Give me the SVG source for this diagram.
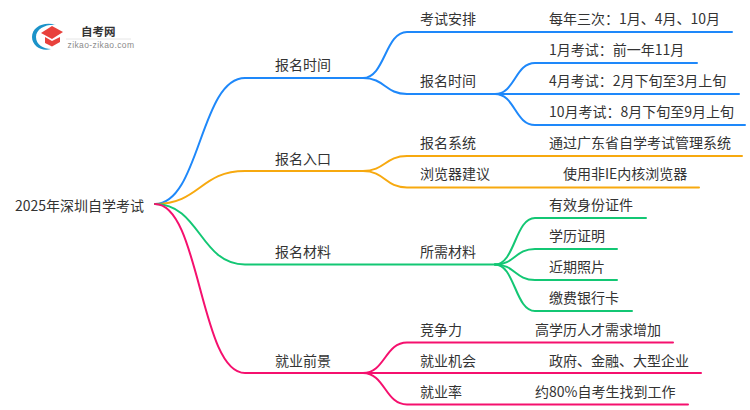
<svg xmlns="http://www.w3.org/2000/svg" width="750" height="410" viewBox="0 0 750 410">
<style>
text{font-family:"Noto Sans CJK SC","Liberation Sans",sans-serif;font-size:14px;fill:#333}
.c{fill:none;stroke-width:2;stroke-linecap:round}
.b{stroke:#1e88fa}.o{stroke:#f7a90f}.g{stroke:#13c774}.p{stroke:#f5106e}
</style>
<rect width="750" height="410" fill="#fff"/>
<g id="connectors">
<path class="c b" d="M155 204C200 204 200 78 245 78H363"/>
<path class="c o" d="M155 204C200 204 200 171 245 171H363"/>
<path class="c g" d="M155 204C200 204 200 264.500 245 264.500H495"/>
<path class="c p" d="M155 204C200 204 200 373 245 373H363"/>
<path class="c b" d="M363 78C385 78 385 32 407 32H732"/>
<path class="c b" d="M363 78C385 78 385 94 407 94H495"/>
<path class="c b" d="M495 94C515 94 515 63 535 63H697"/>
<path class="c b" d="M495 94H739"/>
<path class="c b" d="M495 94C515 94 515 125 535 125H745"/>
<path class="c o" d="M363 171C385 171 385 156 407 156H742"/>
<path class="c o" d="M363 171C385 171 385 187.500 407 187.500H699"/>
<path class="c g" d="M495 264.500C515 264.500 515 218 535 218H646"/>
<path class="c g" d="M495 264.500C515 264.500 515 249 535 249H617"/>
<path class="c g" d="M495 264.500C515 264.500 515 280 535 280H617"/>
<path class="c g" d="M495 264.500C515 264.500 515 311 535 311H632"/>
<path class="c p" d="M363 373C385 373 385 342.500 407 342.500H673"/>
<path class="c p" d="M363 373H701"/>
<path class="c p" d="M363 373C385 373 385 404.500 407 404.500H688"/>
</g>
<g id="logo">
<path d="M56 25C44 21 32 27 32 37C32 46 42 52 51 49C44 49 36 45 36 37C36 29 46 24 56 25Z" fill="#1b93c9"/>
<path d="M41 33L52 26L63 32L52 39Z" fill="#e8413c"/>
<path d="M45 37L52 41L60 37V42L52 46.500L45 43Z" fill="#e8413c"/>
<text x="81" y="36" style="font-size:11.500px;font-weight:700;fill:#333">自考网</text>
<path d="M66 39H131" stroke="#e6e6e6" stroke-width="1"/>
<text x="67.500" y="48" style="font-family:'Liberation Sans',sans-serif;font-size:8.500px;letter-spacing:.4px;fill:#8a8a8a">zikao-zikao.com</text>
</g>
<g id="root"><text x="15" y="211">2025年深圳自学考试</text></g>
<g id="n1"><text x="275" y="70">报名时间</text></g>
<g id="n2"><text x="275" y="164">报名入口</text></g>
<g id="n3"><text x="275" y="257">报名材料</text></g>
<g id="n4"><text x="275" y="366">就业前景</text></g>
<g id="n11"><text x="420" y="24">考试安排</text></g>
<g id="n12"><text x="420" y="86">报名时间</text></g>
<g id="n21"><text x="420" y="148">报名系统</text></g>
<g id="n22"><text x="420" y="179">浏览器建议</text></g>
<g id="n31"><text x="420" y="257">所需材料</text></g>
<g id="n41"><text x="420" y="335">竞争力</text></g>
<g id="n42"><text x="420" y="366">就业机会</text></g>
<g id="n43"><text x="420" y="397">就业率</text></g>
<g id="l1"><text x="549" y="24">每年三次：1月、4月、10月</text></g>
<g id="l2"><text x="549" y="55">1月考试：前一年11月</text></g>
<g id="l3"><text x="549" y="86">4月考试：2月下旬至3月上旬</text></g>
<g id="l4"><text x="549" y="117">10月考试：8月下旬至9月上旬</text></g>
<g id="l5"><text x="549" y="148">通过广东省自学考试管理系统</text></g>
<g id="l6"><text x="563" y="179">使用非IE内核浏览器</text></g>
<g id="l7"><text x="549" y="210">有效身份证件</text></g>
<g id="l8"><text x="549" y="241">学历证明</text></g>
<g id="l9"><text x="549" y="272">近期照片</text></g>
<g id="l10"><text x="549" y="303">缴费银行卡</text></g>
<g id="l11"><text x="535" y="335">高学历人才需求增加</text></g>
<g id="l12"><text x="549" y="366">政府、金融、大型企业</text></g>
<g id="l13"><text x="535" y="397">约80%自考生找到工作</text></g>
</svg>
